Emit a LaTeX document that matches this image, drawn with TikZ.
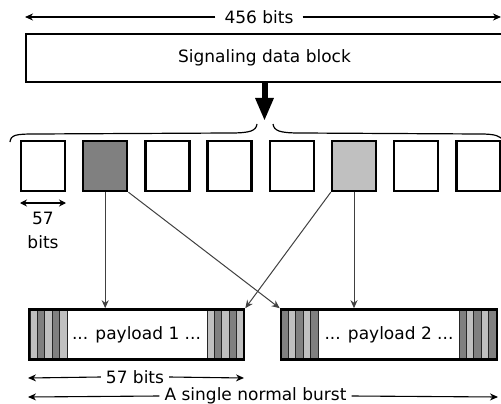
\documentclass[tikz,border=0pt]{standalone}
\usepackage{fontspec}
\setmainfont{DejaVu Sans}
\usetikzlibrary{arrows.meta}
\definecolor{dk}{HTML}{808080}
\definecolor{lt}{HTML}{C0C0C0}
\begin{document}
\begin{tikzpicture}[x=1pt,y=-1pt,
  font=\fontsize{17}{20}\selectfont,
  tip/.style={-{Stealth[length=8pt,width=7pt]}},
  dim/.style={line width=1.1pt, tip},
  sq/.style={draw, line width=2.4pt, minimum width=44pt, minimum height=50pt, inner sep=0pt},
  burst/.style={draw, line width=2.6pt, minimum height=50pt, inner sep=0pt},
  conn/.style={line width=1pt, draw=black!75, tip},
  stripe/.style={line width=0.8pt, draw=black!85}]
\useasboundingbox (0,0) rectangle (501,404);

% top dimension
\node[inner sep=9pt] (t456) at (259,17) {456 bits};
\coordinate (tl) at (25,17);
\coordinate (tr) at (501,17);
\draw[dim] (t456.west) -- (tl);
\draw[dim] (t456.east) -- (tr);

% signaling block
\node[draw, line width=2.4pt, minimum width=490pt, minimum height=48pt, inner sep=0pt] (blk) at (271,58) {};
\node (blkt) at (264.5,58) {Signaling data block};

% thick arrow
\coordinate (ak) at (264.5,121);
\draw[line width=6pt, -{Triangle[length=23pt,width=17pt]}] (blkt |- blk.south) -- (ak);

% brace (two halves)
\draw[line width=1.2pt] (10,142) .. controls (11,135) and (15,134) .. (35,134) -- (230,133) .. controls (250,133) and (256,131) .. (257,124);
\draw[line width=1.2pt] (273,124) .. controls (274,131) and (280,133) .. (300,133) -- (480,134) .. controls (496,134) and (500,136) .. (504,141);

% squares
\foreach \i/\c in {1/white,2/dk,3/white,4/white,5/white,6/lt,7/white,8/white}{
  \node[sq, fill=\c] (s\i) at ({43+62.2*(\i-1)},166) {};
}

% 57 bits under first square
\coordinate (ql) at (20,203);
\coordinate (qr) at (66,203);
\draw[line width=1.1pt, {Stealth[length=7pt,width=7pt]}-{Stealth[length=7pt,width=7pt]}] (ql) -- (qr);
\node (q57) at (43,218) {57};
\node (qbits) at (43,242) {bits};

% stripes
\foreach \x/\c in {30/lt,37.4/dk,44.8/lt,52.2/dk,59.6/lt,
                   207/lt,214.4/dk,221.8/lt,229.2/dk,236.6/lt,
                   281/dk,288.4/lt,295.8/dk,303.2/lt,310.6/dk,
                   459/dk,466.4/lt,473.8/dk,481.2/lt,488.6/dk}{
  \draw[stripe, fill=\c] (\x,310) rectangle ++(7.4,49);
}

% bursts
\node[burst, minimum width=215pt] (b1) at (136.5,334.5) {... payload 1 ...};
\node[burst, minimum width=216pt] (b2) at (389,334.5) {... payload 2 ...};

% connectors
\draw[conn] (s2.south) -- (s2.south |- b1.north);
\draw[conn] (s2.south east) -- (b2.north west);
\draw[conn] (s6.south west) -- (b1.north east);
\draw[conn] (s6.south) -- (s6.south |- b2.north);

% bottom dimensions
\node[inner sep=5pt] (t57) at (135,377) {57 bits};
\coordinate (bl1) at (28,378);
\coordinate (br1) at (244,378);
\draw[dim] (t57.west) -- (bl1);
\draw[dim] (t57.east) -- (br1);

\node[inner sep=5pt] (tsb) at (255.5,396) {A single normal burst};
\coordinate (bl2) at (28,397);
\coordinate (br2) at (498,397);
\draw[dim] (tsb.west) -- (bl2);
\draw[dim] (tsb.east) -- (br2);
\end{tikzpicture}
\end{document}
